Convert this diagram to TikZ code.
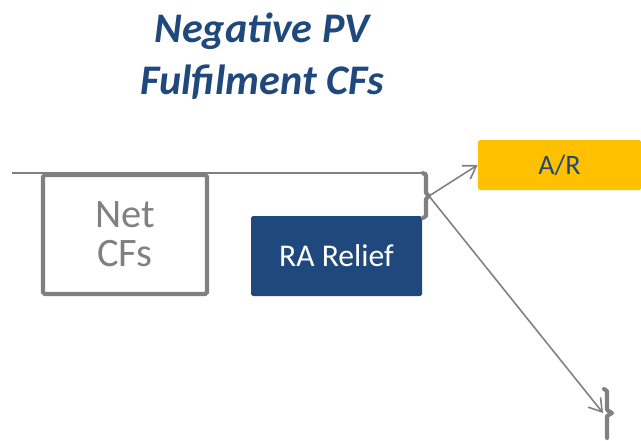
\documentclass[tikz,border=0pt]{standalone}
\usepackage{fontspec}
\setmainfont{Carlito}
\usetikzlibrary{arrows.meta}

\definecolor{titleblue}{RGB}{31,73,125}
\definecolor{linegrey}{RGB}{128,128,128}
\definecolor{argold}{RGB}{255,192,0}

\tikzset{
  netbox/.style={draw=linegrey, line width=2.3pt, rounded corners=1pt, text=linegrey,
    inner sep=0pt, align=center, font=\fontsize{23}{22}\selectfont},
  fillbox/.style={rounded corners=1pt, inner sep=0pt, align=center},
  brace/.style={linegrey, line width=2.3pt, line cap=round, line join=round},
  flow/.style={linegrey, line width=0.9pt, -{Straight Barb[length=7pt,width=9pt]}}
}

\begin{document}
\begin{tikzpicture}[x=0.02cm, y=-0.02cm]
\useasboundingbox (0,0) rectangle (641,440);

% Title
\node[text=titleblue, align=center, font=\fontsize{24}{29.6}\selectfont\bfseries\itshape]
  (title) at (262,56) {Negative PV\\Fulfilment CFs};

% Time line
\coordinate (lstart) at (12,173);
\coordinate (lend) at (427,173);
\draw[linegrey, line width=0.9pt] (lstart) -- (lend);

% Boxes
\node[netbox, minimum width=164*0.02cm, minimum height=119*0.02cm] (net) at (125,234.5) {Net\\CFs};
\node[fillbox, fill=titleblue, text=white, minimum width=171*0.02cm, minimum height=80*0.02cm,
  font=\fontsize{18}{20}\selectfont] (ra) at (336.5,256) {RA Relief};
\node[fillbox, fill=argold, text=titleblue, minimum width=163*0.02cm, minimum height=50*0.02cm,
  font=\fontsize{16}{18}\selectfont] (ar) at (559.5,165) {A/R};

% Braces
\coordinate (b1) at (429,196);
\draw[brace] (423,173) -- (426,175) -- (426,193) -- (b1) -- (426,199) -- (426,216) -- (423,218);
\coordinate (b2) at (612,413);
\coordinate (b2in) at (603,413);
\draw[brace] (604,389) -- (607,391) -- (607,410) -- (b2) -- (607,416) -- (607,438);

% Arrows
\draw[flow] (b1) -- (ar.west);
\draw[flow] (b1) -- (b2in);

\end{tikzpicture}
\end{document}
